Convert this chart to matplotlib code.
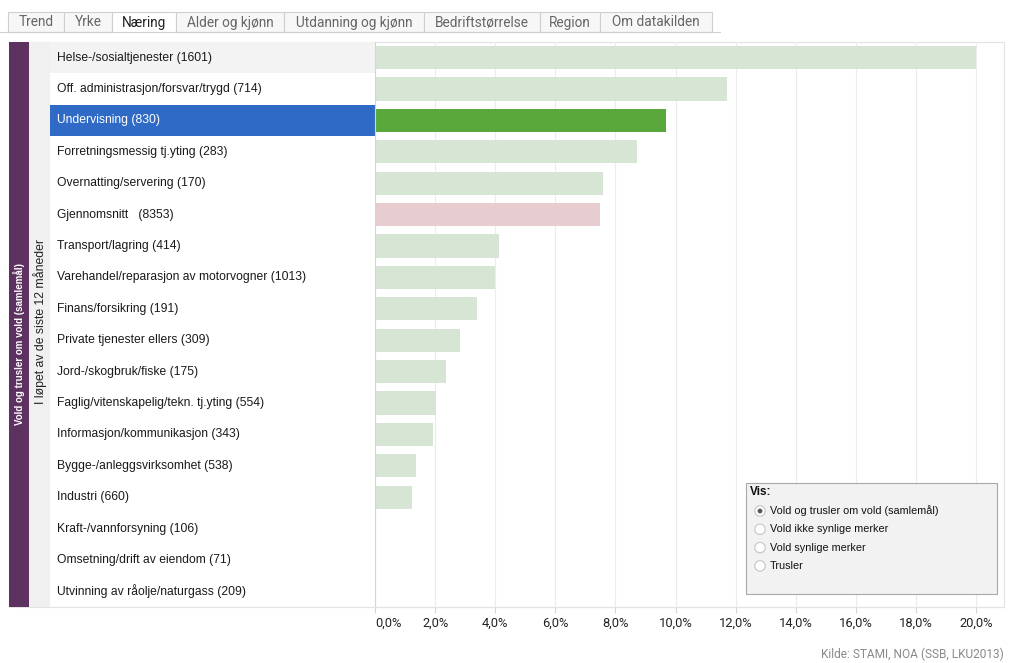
import numpy as np
import matplotlib.pyplot as plt
from matplotlib.patches import Rectangle, Circle

# data
categories = ['Helse-/sosialtjenester', 'Off. administrasjon/forsvar/trygd', 'Undervisning',
              'Forretningsmessig tj.yting', 'Overnatting/servering', 'Gjennomsnitt  ',
              'Transport/lagring', 'Varehandel/reparasjon av motorvogner', 'Finans/forsikring',
              'Private tjenester ellers', 'Jord-/skogbruk/fiske', 'Faglig/vitenskapelig/tekn. tj.yting',
              'Informasjon/kommunikasjon', 'Bygge-/anleggsvirksomhet', 'Industri',
              'Kraft-/vannforsyning', 'Omsetning/drift av eiendom', 'Utvinning av råolje/naturgass']
counts = [1601, 714, 830, 283, 170, 8353, 414, 1013, 191, 309, 175, 554, 343, 538, 660, 106, 71, 209]
values = [20.0, 11.73, 9.69, 8.73, 7.58, 7.49, 4.11, 4.0, 3.38, 2.83, 2.37, 2.04, 1.93, 1.35, 1.23,
          np.nan, np.nan, np.nan]
selected = 'Undervisning'
average = 'Gjennomsnitt  '
xticks = [0, 2, 4, 6, 8, 10, 12, 14, 16, 18, 20]
tabs = ['Trend', 'Yrke', 'Næring', 'Alder og kjønn', 'Utdanning og kjønn',
        'Bedriftstørrelse', 'Region', 'Om datakilden']
tab_edges = [8, 64, 112, 176, 284, 424, 540, 600, 712]
active_tab = 'Næring'
options = ['Vold og trusler om vold (samlemål)', 'Vold ikke synlige merker',
           'Vold synlige merker', 'Trusler']

W, H = 1024, 663
plt.rcParams['font.family'] = ['Liberation Sans', 'DejaVu Sans']
fig = plt.figure(figsize=(W / 100, H / 100), dpi=100)


def pixel_axes(z):
    a = fig.add_axes([0, 0, 1, 1])
    a.set_xlim(0, W)
    a.set_ylim(H, 0)
    a.axis('off')
    a.set_zorder(z)
    a.patch.set_alpha(0)
    return a


# pixel-space overlays for the decorations
deco = pixel_axes(0)
top_layer = pixel_axes(2)

top, bottom = 42, 607
left_lab, left_bar, right = 50, 375, 1004
n = len(categories)
row_h = (bottom - top) / n

# tabs
for i, t in enumerate(tabs):
    x0, x1 = tab_edges[i], tab_edges[i + 1]
    fc = 'white' if t == active_tab else '#f7f7f7'
    deco.add_patch(Rectangle((x0, 12), x1 - x0, 20, facecolor=fc, edgecolor='#cfcfcf', lw=0.8))
    deco.text((x0 + x1) / 2, 22.5, t, ha='center', va='center', fontsize=9.8,
              family=['Roboto', 'DejaVu Sans'],
              color='#222222' if t == active_tab else '#666666')
deco.plot([0, 112], [32, 32], color='#cfcfcf', lw=0.8)
deco.plot([176, 720], [32, 32], color='#cfcfcf', lw=0.8)

# outer frame
deco.add_patch(Rectangle((9, top), right - 9, bottom - top, facecolor='none',
                         edgecolor='#e3e3e3', lw=0.8))
# purple strip and grey strip
deco.add_patch(Rectangle((9, top), 20, bottom - top, facecolor='#5e3260', edgecolor='none'))
deco.add_patch(Rectangle((29, top), left_lab - 29, bottom - top, facecolor='#f0f0f0', edgecolor='none'))
deco.text(19, 344, 'Vold og trusler om vold (samlemål)', rotation=90, ha='center', va='center',
          color='white', fontsize=7, fontweight='bold')
deco.text(40, 321, 'I løpet av de siste 12 måneder', rotation=90, ha='center', va='center',
          color='#222222', fontsize=8.8)

# row labels
for i, (c, k) in enumerate(zip(categories, counts)):
    y0 = top + i * row_h
    if c == selected:
        deco.add_patch(Rectangle((left_lab, y0), left_bar - left_lab, row_h,
                                 facecolor='#2f6bc6', edgecolor='none'))
    elif i == 0:
        deco.add_patch(Rectangle((left_lab, y0), left_bar - left_lab, row_h,
                                 facecolor='#f3f3f3', edgecolor='none'))
    deco.text(57, y0 + row_h / 2, f'{c} ({k})', ha='left', va='center', fontsize=8.7,
              color='white' if c == selected else '#1a1a1a')

# legend box (on top of the bars and grid)
top_layer.add_patch(Rectangle((746, 483), 251, 111, facecolor='#f2f2f2', edgecolor='#a8a8a8', lw=0.8))
top_layer.text(750, 492, 'Vis:', ha='left', va='center', fontsize=8.5, fontweight='bold',
               color='#111111')
for j, o in enumerate(options):
    yy = 511 + j * 18.3
    top_layer.add_patch(Circle((760, yy), 5.2, facecolor='white', edgecolor='#c4c4c4', lw=0.8))
    if j == 0:
        top_layer.add_patch(Circle((760, yy), 2.4, facecolor='#555555', edgecolor='none'))
    top_layer.text(770, yy, o, ha='left', va='center', fontsize=7.8, color='#111111')

deco.text(right, 654, 'Kilde: STAMI, NOA (SSB, LKU2013)', ha='right', va='center',
          fontsize=8.6, color='#8a8a8a', family=['Roboto', 'DejaVu Sans'])

# bar axes
ax = fig.add_axes([left_bar / W, 1 - bottom / H, (right - left_bar) / W, (bottom - top) / H])
ax.set_zorder(1)
ax.patch.set_alpha(0)
colors = ['#5aa83b' if c == selected else '#e7ccd0' if c == average else '#d6e5d4'
          for c in categories]
ypos = np.arange(n)
ax.barh(ypos, values, height=0.74, color=colors, zorder=2)
ax.set_ylim(n - 0.5, -0.5)
ax.set_xlim(0, (right - left_bar) / 30.05)
ax.set_xticks(xticks)
ax.set_xticklabels([f'{v:.1f}%'.replace('.', ',') for v in xticks], fontsize=9.3,
                   family=['Roboto', 'DejaVu Sans'], color='#222222')
ax.get_xticklabels()[0].set_horizontalalignment('left')
ax.set_yticks([])
ax.grid(axis='x', color='#ececec', lw=0.8, zorder=0)
ax.tick_params(axis='x', length=4, color='#d5d5d5', pad=3)
for s in ['top', 'right']:
    ax.spines[s].set_visible(False)
ax.spines['left'].set_color('#d5d5d5')
ax.spines['bottom'].set_color('#e3e3e3')

fig.savefig('out.png', dpi=100)
